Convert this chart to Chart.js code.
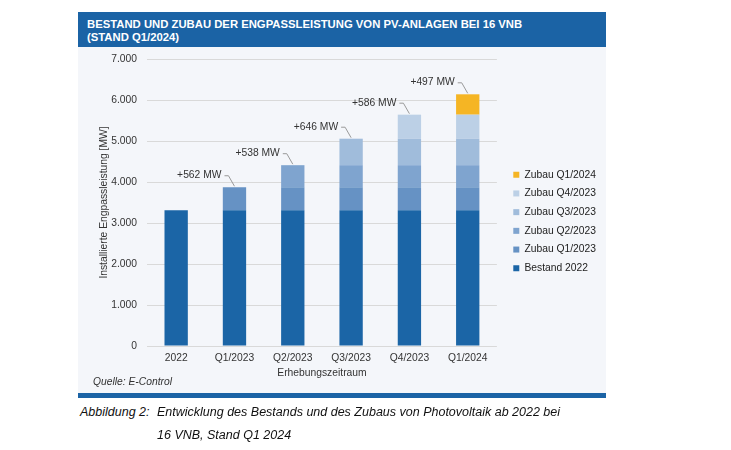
<!DOCTYPE html>
<html>
<head>
<meta charset="utf-8">
<script src="https://cdn.jsdelivr.net/npm/chart.js@4.4.1/dist/chart.umd.min.js"></script>
<style>
  body { margin: 0; background: #fff; font-family: "Liberation Sans", Arial, sans-serif; }
  #panel { position: absolute; left: 78px; top: 12px; width: 528px; height: 385px; background: #f4f6fa; }
  #title { position: absolute; left: 78px; top: 12px; width: 519px; height: 29px; padding: 6px 0 0 9px;
           background: #1b63a5; color: #fff; font-weight: bold; font-size: 11.3px; line-height: 13px; }
  #wrap { position: absolute; left: 78px; top: 47px; width: 528px; height: 346px; }
  #source { position: absolute; left: 93px; top: 376px; font-size: 10.3px; font-style: italic; color: #333; }
  #band { position: absolute; left: 78px; top: 393px; width: 528px; height: 5px; background: #1b63a5; }
  .cap { position: absolute; font-size: 12.5px; font-style: italic; color: #111; line-height: 15px; }
</style>
</head>
<body>
<div id="panel"></div>
<div id="title">BESTAND UND ZUBAU DER ENGPASSLEISTUNG VON PV-ANLAGEN BEI 16 VNB<br>(STAND Q1/2024)</div>
<div id="wrap"><canvas id="chart" width="528" height="346"></canvas></div>
<div id="source">Quelle: E-Control</div>
<div id="band"></div>
<div class="cap" style="left:80px; top:405px;">Abbildung 2:</div>
<div class="cap" style="left:157px; top:405px;">Entwicklung des Bestands und des Zubaus von Photovoltaik ab 2022 bei</div>
<div class="cap" style="left:157px; top:428px;">16 VNB, Stand Q1 2024</div>
<script>
const categories = ["2022", "Q1/2023", "Q2/2023", "Q3/2023", "Q4/2023", "Q1/2024"];
const bestand2022 = [3310, 3310, 3310, 3310, 3310, 3310];
const zubauQ1_2023 = [null, 562, 562, 562, 562, 562];
const zubauQ2_2023 = [null, null, 538, 538, 538, 538];
const zubauQ3_2023 = [null, null, null, 646, 646, 646];
const zubauQ4_2023 = [null, null, null, null, 586, 586];
const zubauQ1_2024 = [null, null, null, null, null, 497];
// added capacity per period, shown as callouts above the bars
const zubauCallouts = [null, 562, 538, 646, 586, 497];
const yTicks = [0, 1000, 2000, 3000, 4000, 5000, 6000, 7000];

const fmt = v => String(v).replace(/\B(?=(\d{3})+(?!\d))/g, ".");
const font = "'Liberation Sans', Arial, sans-serif";
const fs = 10.3;

const calloutPlugin = {
  id: "callouts",
  afterDatasetsDraw(chart) {
    const ctx = chart.ctx;
    const xs = chart.scales.x, ys = chart.scales.y;
    ctx.save();
    ctx.font = fs + "px " + font;
    ctx.fillStyle = "#333";
    ctx.strokeStyle = "#999";
    ctx.lineWidth = 1;
    ctx.textAlign = "right";
    ctx.textBaseline = "middle";
    zubauCallouts.forEach((v, i) => {
      if (v == null) return;
      let total = 0;
      chart.data.datasets.forEach(ds => { total += ds.data[i] || 0; });
      const cx = xs.getPixelForValue(i);
      const top = ys.getPixelForValue(total);
      const ly = top - 12;
      ctx.fillText("+" + v + " MW", cx - 13, ly);
      ctx.beginPath();
      ctx.moveTo(cx - 10, ly + 0.5);
      ctx.lineTo(cx - 6, ly + 0.5);
      ctx.lineTo(cx, top - 1);
      ctx.stroke();
    });
    ctx.restore();
  }
};

new Chart(document.getElementById("chart"), {
  type: "bar",
  data: {
    labels: categories,
    datasets: [
      { label: "Bestand 2022", data: bestand2022, backgroundColor: "#1b65a6" },
      { label: "Zubau Q1/2023", data: zubauQ1_2023, backgroundColor: "#6692c4" },
      { label: "Zubau Q2/2023", data: zubauQ2_2023, backgroundColor: "#7fa4cf" },
      { label: "Zubau Q3/2023", data: zubauQ3_2023, backgroundColor: "#a0bcdb" },
      { label: "Zubau Q4/2023", data: zubauQ4_2023, backgroundColor: "#bcd0e6" },
      { label: "Zubau Q1/2024", data: zubauQ1_2024, backgroundColor: "#f5b524" }
    ]
  },
  options: {
    responsive: false,
    animation: false,
    layout: { padding: { left: 0, right: 0, top: 12, bottom: 9 } },
    datasets: { bar: { categoryPercentage: 0.8, barPercentage: 0.5 } },
    plugins: {
      legend: {
        position: "right",
        reverse: true,
        maxWidth: 130,
        labels: { boxWidth: 6, boxHeight: 6, padding: 8.4, color: "#222", font: { size: fs, family: font } }
      },
      tooltip: { enabled: false }
    },
    scales: {
      x: {
        stacked: true,
        grid: { display: false, drawTicks: false },
        border: { display: false },
        ticks: { color: "#333", font: { size: fs, family: font }, padding: 6 },
        title: { display: true, text: "Erhebungszeitraum", color: "#333", font: { size: fs, family: font }, padding: { top: 0, bottom: 5 } },
        afterFit: s => { s.height = 38; }
      },
      y: {
        stacked: true,
        min: 0,
        max: 7000,
        afterBuildTicks: s => { s.ticks = yTicks.map(v => ({ value: v })); },
        grid: { color: "#d9d9d9", drawTicks: false },
        border: { display: false },
        ticks: { color: "#333", font: { size: fs, family: font }, padding: 10, callback: v => fmt(v) },
        title: { display: true, text: "Installierte Engpassleistung [MW]", color: "#333", font: { size: fs, family: font }, padding: { top: 20, bottom: 0 } },
        afterFit: s => { s.width = 69; s.paddingTop = 0; s.paddingBottom = 0; }
      },
      gap: {
        type: "linear",
        position: "right",
        grid: { display: false, drawTicks: false },
        border: { display: false },
        ticks: { display: false },
        afterFit: s => { s.width = 8; }
      }
    }
  },
  plugins: [calloutPlugin]
});
</script>
</body>
</html>
